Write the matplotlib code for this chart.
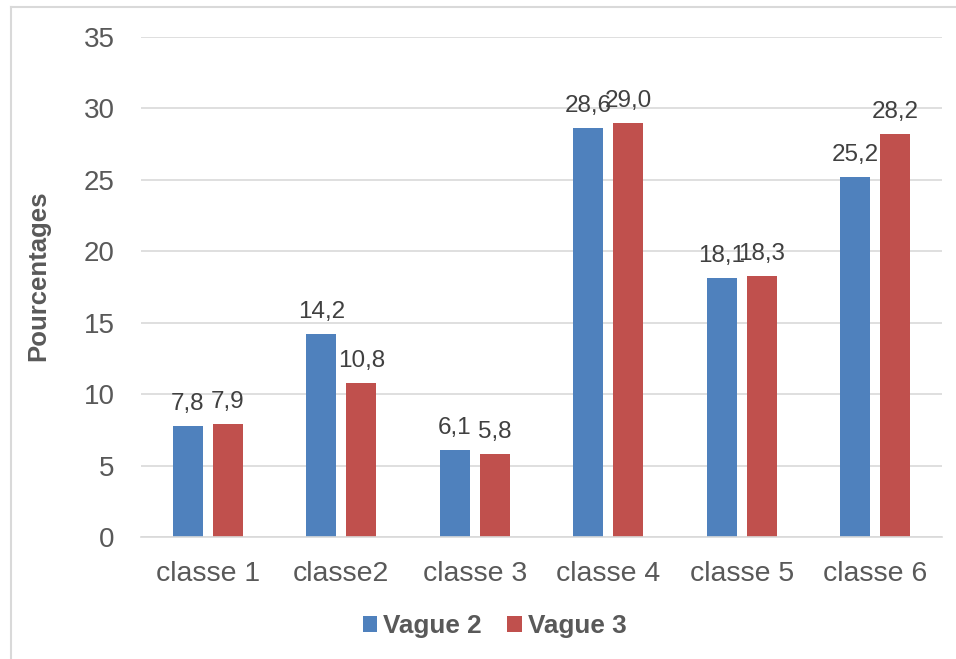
import matplotlib
matplotlib.use("Agg")
import matplotlib.pyplot as plt
from matplotlib.lines import Line2D
from matplotlib.patches import Patch
import numpy as np

plt.rcParams['font.family'] = ['Liberation Sans', 'DejaVu Sans']

categories = ["classe 1", "classe2", "classe 3", "classe 4", "classe 5", "classe 6"]
series_names = ["Vague 2", "Vague 3"]
vague2 = [7.8, 14.2, 6.1, 28.6, 18.1, 25.2]
vague3 = [7.9, 10.8, 5.8, 29.0, 18.3, 28.2]
y_ticks = [0, 5, 10, 15, 20, 25, 30, 35]

colors = ["#4F81BD", "#C0504D"]
grey_text = "#595959"
label_text = "#404040"
grid_col = "#D9D9D9"

W, H = 956, 659
fig = plt.figure(figsize=(W / 100, H / 100), dpi=100)
ax = fig.add_axes([141 / W, 1 - 537 / H, (942 - 141) / W, (537 - 37) / H])

x = np.arange(len(categories))
bw = 0.225
offs = [-0.15, 0.15]
for vals, off, c in zip([vague2, vague3], offs, colors):
    bars = ax.bar(x + off, vals, width=bw, color=c, zorder=3)
    for b, v in zip(bars, vals):
        ax.annotate(f"{v:.1f}".replace(".", ","),
                    (b.get_x() + b.get_width() / 2, v),
                    xytext=(0, 11.5), textcoords="offset points",
                    ha="center", va="baseline", fontsize=17.5,
                    color=label_text, zorder=4)

ax.set_xlim(-0.5, len(categories) - 0.5)
ax.set_ylim(0, 35)
ax.set_yticks(y_ticks)
ax.set_yticklabels([str(t) for t in y_ticks])
ax.set_xticks(x)
ax.set_xticklabels(categories)
ax.tick_params(axis="y", length=0, pad=19, labelsize=20, labelcolor=grey_text)
ax.tick_params(axis="x", length=0, pad=17, labelsize=20.5, labelcolor=grey_text)
ax.grid(axis="y", color=grid_col, linewidth=1.2, zorder=0)
for s in ["top", "right", "left"]:
    ax.spines[s].set_visible(False)
ax.spines["bottom"].set_color(grid_col)
ax.spines["bottom"].set_linewidth(1.2)
ax.spines["bottom"].set_zorder(5)

fig.text(38 / W, 1 - 276 / H, "Pourcentages", rotation=90, ha="center",
         va="center", fontsize=18.5, fontweight="bold", color=grey_text)

handles = [Patch(facecolor=c, edgecolor="none") for c in colors]
leg = fig.legend(handles, series_names, loc="center",
                 bbox_to_anchor=(494.5 / W, 1 - 626 / H), ncol=2,
                 frameon=False, handlelength=0.54, handleheight=0.54,
                 handletextpad=0.23, columnspacing=1.0, borderpad=0,
                 prop={"weight": "bold", "size": 18.8})
for t in leg.get_texts():
    t.set_color(grey_text)

# chart-area border (left and top edges)
fig.add_artist(Line2D([11 / W, 11 / W], [0, 1 - 7 / H], color="#D9D9D9",
                      linewidth=1.5, transform=fig.transFigure))
fig.add_artist(Line2D([11 / W, 1], [1 - 7 / H, 1 - 7 / H], color="#D9D9D9",
                      linewidth=1.5, transform=fig.transFigure))

fig.savefig("out.png", dpi=100)
